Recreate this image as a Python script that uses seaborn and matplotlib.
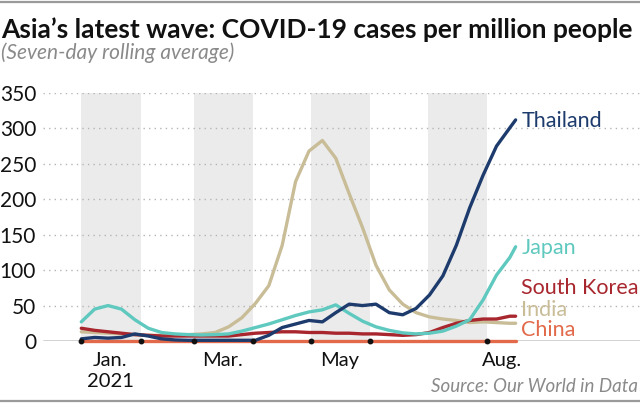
import pandas as pd
import matplotlib
matplotlib.use("Agg")
import matplotlib.pyplot as plt
import seaborn as sns

# ---------------- data ----------------
dates = list(pd.date_range("2021-01-01", "2021-08-13", freq="7D")) + [pd.Timestamp("2021-08-16")]

thailand = [3, 5, 4, 5, 10, 7, 3, 1.5, 1, 1, 1, 1, 1, 1, 8, 19, 24, 29, 27, 40,
            52, 50, 52, 40, 37, 46, 65, 92, 135, 188, 234, 275, 301, 312]
japan = [27, 45, 50, 45, 30, 18, 12, 10, 9, 8.5, 9, 10, 14, 19, 24, 30, 36, 41, 44, 51,
         39, 28, 20, 15, 11.5, 10, 11, 14, 21, 30, 58, 93, 118, 133]
india = [13, 12, 11, 10, 9, 8, 8, 8, 9, 10, 12, 20, 33, 53, 78, 135, 225, 268, 283, 258,
         208, 160, 107, 72, 52, 40, 34, 31, 29, 26, 27, 26, 25, 25]
south_korea = [18, 15, 13, 11, 9, 8, 7, 7, 7, 7, 7, 7, 9, 11, 12, 13, 13, 12, 12, 11,
               11, 10, 10, 9, 8, 9, 12, 19, 25, 29, 31, 31, 35, 35]
china = [0.2, 0.2, 0.2, 0.2, 0.2, 0.2, 0.2, 0.2, 0.2, 0.2, 0.2, 0.2, 0.2, 0.2, 0.2, 0.2, 0.2,
         0.2, 0.2, 0.2, 0.2, 0.2, 0.2, 0.2, 0.2, 0.2, 0.2, 0.2, 0.2, 0.2, 0.2, 0.2, 0.2, 0.2]

countries = ["China", "India", "South Korea", "Japan", "Thailand"]
series = {"China": china, "India": india, "South Korea": south_korea,
          "Japan": japan, "Thailand": thailand}
colors = {"Thailand": "#1d3b6c", "Japan": "#5fc9bf", "South Korea": "#a8262d",
          "India": "#c9bd98", "China": "#e26a4b"}
label_values = {"Thailand": 310, "Japan": 131, "South Korea": 75, "India": 44, "China": 16}

y_ticks = [0, 50, 100, 150, 200, 250, 300, 350]
dot_ticks = ["2021-01-01", "2021-02-01", "2021-03-01", "2021-04-01", "2021-05-01",
             "2021-06-01", "2021-08-01"]
shade_months = [("2021-01-01", "2021-02-01"), ("2021-03-01", "2021-04-01"),
                ("2021-05-01", "2021-06-01"), ("2021-07-01", "2021-08-01")]
month_labels = ["Jan.\n2021", "Mar.", "May", "Aug."]
month_label_pos = ["2021-01-16", "2021-03-16", "2021-05-16", "2021-08-09"]

df = pd.concat([pd.DataFrame({"date": dates, "value": series[c], "country": c})
                for c in countries], ignore_index=True)

# ---------------- figure ----------------
sns.set_style("white")
plt.rcParams["font.family"] = ["Lato", "DejaVu Sans"]

fig = plt.figure(figsize=(6.4, 4.05), dpi=100)
ax = fig.add_axes([43 / 640, (405 - 341) / 405, 1 - 43 / 640, (341 - 93) / 405])

for a, b in shade_months:
    ax.axvspan(pd.Timestamp(a), pd.Timestamp(b), ymin=0, ymax=1, color="#ebebeb", lw=0, zorder=0)

for yv in y_ticks[1:]:
    ax.axhline(yv, color="#b5b5b5", lw=1.0, ls=(0, (1, 3)), zorder=1)
ax.axhline(0, color="#222222", lw=1.0, zorder=1)

sns.lineplot(data=df, x="date", y="value", hue="country", hue_order=countries,
             palette=colors, lw=2.4, legend=False, ax=ax, zorder=3, clip_on=False)

ax.plot([pd.Timestamp(d) for d in dot_ticks], [0] * len(dot_ticks), "o", color="#111111",
        ms=3.2, zorder=5, clip_on=False)

ax.set_xlim(pd.Timestamp("2020-12-12"), pd.Timestamp("2021-10-20"))
ax.set_ylim(0, 350)
ax.set_yticks(y_ticks)
ax.set_yticklabels([str(v) for v in y_ticks], fontsize=15, color="#111111")
ax.set_xticks([pd.Timestamp(d) for d in month_label_pos])
ax.set_xticklabels(month_labels, fontsize=14.5, color="#111111", linespacing=1.3)
ax.tick_params(axis="both", length=0)
ax.tick_params(axis="y", pad=5)
ax.tick_params(axis="x", pad=8)
ax.set_xlabel("")
ax.set_ylabel("")
for s in ax.spines.values():
    s.set_visible(False)

for c in countries:
    ax.text(pd.Timestamp("2021-08-19"), label_values[c], c, color=colors[c],
            fontsize=15.5, va="center", ha="left", clip_on=False)

fig.text(0.002, 1 - 30 / 405, "Asia\u2019s latest wave: COVID-19 cases per million people",
         fontsize=19, fontweight="bold", color="#111111", va="center", ha="left")
fig.text(0.002, 1 - 53 / 405, "(Seven-day rolling average)", fontsize=15, style="italic",
         color="#8a8a8a", va="center", ha="left")
fig.text(0.997, 1 - 386 / 405, "Source: Our World in Data", fontsize=13.5, style="italic",
         color="#8a8a8a", va="center", ha="right")

fig.add_artist(plt.Line2D([0, 1], [1 - 1.5 / 405, 1 - 1.5 / 405], color="#9a9a9a", lw=1.6,
                          transform=fig.transFigure))
fig.add_artist(plt.Line2D([0, 1], [1 - 401 / 405, 1 - 401 / 405], color="#9a9a9a", lw=1.6,
                          transform=fig.transFigure))

fig.savefig("out.png", dpi=100)
